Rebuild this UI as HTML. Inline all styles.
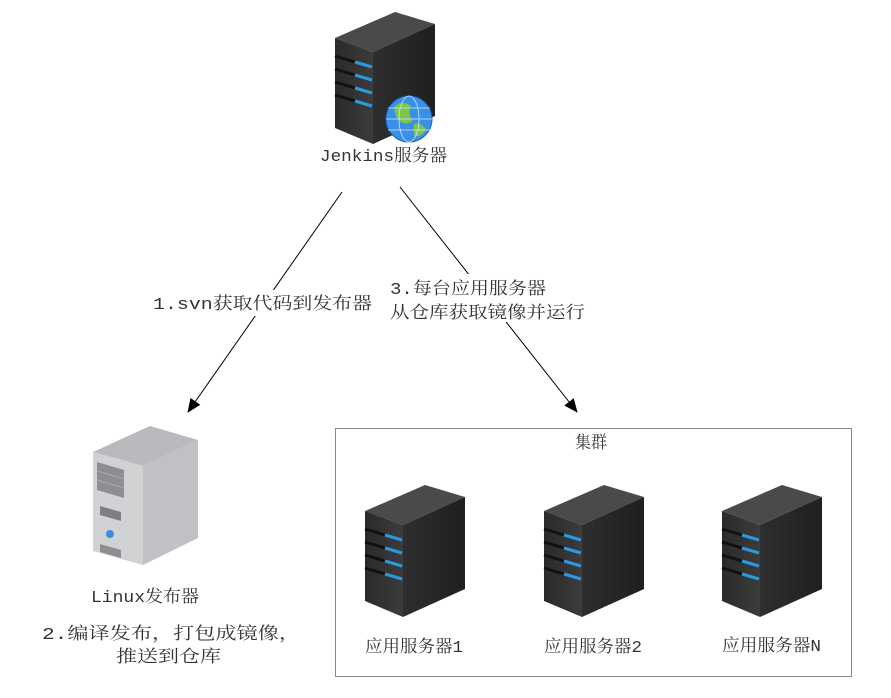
<!DOCTYPE html>
<html><head><meta charset="utf-8"><style>
body{margin:0;background:#fff;}
svg{display:block;}
text{font-family:"Liberation Mono","Noto Serif CJK SC",monospace;font-size:17px;fill:#333;}
</style></head><body>
<svg width="891" height="698" viewBox="0 0 891 698">
<defs>
<linearGradient id="fr" x1="0" x2="1"><stop offset="0" stop-color="#2a2a2a"/><stop offset="1" stop-color="#3c3c3c"/></linearGradient>
<linearGradient id="sd" x1="0" x2="1"><stop offset="0" stop-color="#2e2e2e"/><stop offset="1" stop-color="#1f1f1f"/></linearGradient>
<g id="srv">
<polygon points="0,26 60,0 100,12 38,40" fill="#4a4a4a"/>
<polygon points="0,26 38,40 38,132 0,116" fill="url(#fr)"/>
<polygon points="38,40 100,12 100,104 38,132" fill="url(#sd)"/>
<g stroke-width="3">
<line x1="0" y1="44" x2="20" y2="50" stroke="#111"/><line x1="20" y1="50" x2="37" y2="55" stroke="#2a9ae0"/>
<line x1="0" y1="57" x2="20" y2="63" stroke="#111"/><line x1="20" y1="63" x2="37" y2="68" stroke="#2a9ae0"/>
<line x1="0" y1="70" x2="20" y2="76" stroke="#111"/><line x1="20" y1="76" x2="37" y2="81" stroke="#2a9ae0"/>
<line x1="0" y1="83" x2="20" y2="89" stroke="#111"/><line x1="20" y1="89" x2="37" y2="94" stroke="#2a9ae0"/>
</g>
</g>
<marker id="ar" markerWidth="14" markerHeight="12" refX="13" refY="6" orient="auto" markerUnits="userSpaceOnUse"><path d="M0,0 L14,6 L0,12 z" fill="#000"/></marker>
</defs>

<use href="#srv" x="335" y="12"/>
<circle cx="409" cy="119" r="23" fill="#3a8fe8" stroke="#1b5fb0"/>
<path d="M395,106 q8,-6 16,0 q-4,8 2,14 q-6,6 -12,2 q-8,-6 -6,-16z M414,124 q8,-2 12,6 q-6,8 -12,6z" fill="#7cc74a"/>
<g stroke="#cfe6ff" stroke-width="0.8" fill="none"><ellipse cx="409" cy="119" rx="10" ry="23"/><line x1="386" y1="119" x2="432" y2="119"/><line x1="388" y1="108" x2="430" y2="108"/><line x1="388" y1="130" x2="430" y2="130"/></g>
<text x="320" y="161" textLength="127" lengthAdjust="spacingAndGlyphs">Jenkins服务器</text>

<line x1="342" y1="192" x2="188" y2="412" stroke="#000" marker-end="url(#ar)"/>
<line x1="400" y1="187" x2="577" y2="412" stroke="#000" marker-end="url(#ar)"/>
<rect x="150" y="290" width="225" height="26" fill="#fff"/>
<text x="153" y="309" textLength="219" lengthAdjust="spacingAndGlyphs">1.svn获取代码到发布器</text>
<rect x="388" y="274" width="200" height="48" fill="#fff"/>
<text x="390" y="294" textLength="156" lengthAdjust="spacingAndGlyphs">3.每台应用服务器</text>
<text x="390" y="318" textLength="195" lengthAdjust="spacingAndGlyphs">从仓库获取镜像并运行</text>

<polygon points="93,452 150,426 198,440 143,466" fill="#b8babd"/>
<polygon points="93,452 143,466 143,565 93,551" fill="#d0d2d4"/>
<polygon points="143,466 198,440 198,538 143,565" fill="#bfc1c4"/>
<polygon points="97,462 124,470 124,498 97,490" fill="#8c8e91"/>
<line x1="97" y1="471" x2="124" y2="479" stroke="#aaa"/><line x1="97" y1="480" x2="124" y2="488" stroke="#aaa"/>
<polygon points="100,506 121,512 121,521 100,515" fill="#7d7f82"/>
<circle cx="110" cy="534" r="4" fill="#3a8fe0"/>
<polygon points="100,544 121,550 121,558 100,552" fill="#8c8e91"/>
<text x="91" y="602" textLength="108" lengthAdjust="spacingAndGlyphs">Linux发布器</text>
<text x="42" y="639" textLength="258" lengthAdjust="spacingAndGlyphs">2.编译发布，打包成镜像，</text>
<text x="116" y="662" textLength="105" lengthAdjust="spacingAndGlyphs">推送到仓库</text>

<rect x="335.5" y="428.5" width="516" height="248" fill="#fff" stroke="#888"/>
<text x="575" y="448" textLength="32" lengthAdjust="spacingAndGlyphs">集群</text>
<use href="#srv" x="365" y="485"/>
<use href="#srv" x="544" y="485"/>
<use href="#srv" x="722" y="485"/>
<text x="365" y="652" textLength="98" lengthAdjust="spacingAndGlyphs">应用服务器1</text>
<text x="544" y="652" textLength="98" lengthAdjust="spacingAndGlyphs">应用服务器2</text>
<text x="722" y="651" textLength="99" lengthAdjust="spacingAndGlyphs">应用服务器N</text>
</svg>
</body></html>
